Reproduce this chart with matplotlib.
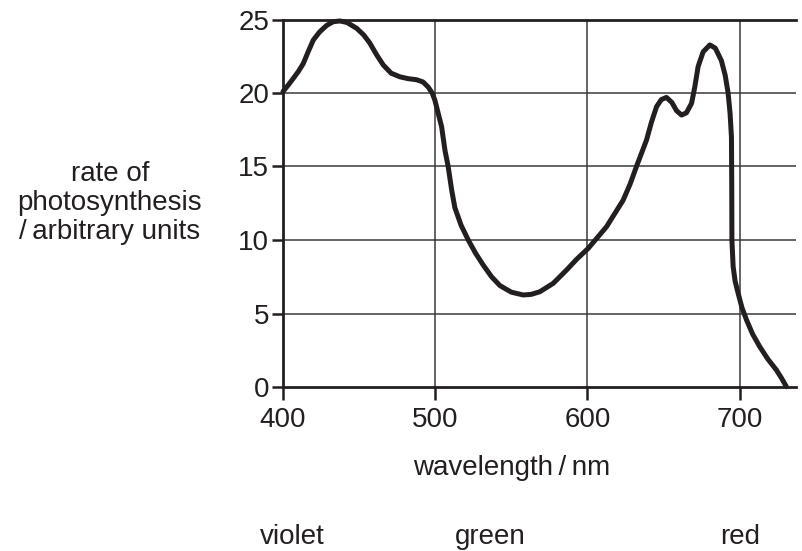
"""Rate of photosynthesis against wavelength (action spectrum)."""

import matplotlib

matplotlib.use("Agg")
import matplotlib.pyplot as plt
import matplotlib.transforms as mtransforms

# curve
wavelength_nm = [
    400, 403.5, 406.8, 410, 413.3, 416.5, 419.9, 424, 428.7, 433, 437.4,
    442, 448.4, 453, 457, 461.5, 465.9, 471, 476.8, 482, 487.8, 492,
    495.4, 498, 499.8, 502, 504.2, 506.4, 508.5, 510.8, 512.9, 517,
    521.7, 526.5, 531.5, 537, 542.5, 550, 557.8, 563, 568.7, 577.5,
    586.3, 593, 600.5, 612.5, 623.4, 628, 632.2, 635.5, 638.8, 642,
    645.4, 648.5, 651.9, 655.5, 658.5, 661.8, 665, 668.4, 670.5, 672.7,
    676, 680.4, 684, 688, 690.5, 692.4, 693.7, 694.6, 694.8, 694.9,
    695.7, 697, 699, 701.5, 704.5, 708.5, 713.2, 718.5, 724.1, 727.5,
    730.7,
]
rate = [
    20.1, 20.55, 21.0, 21.45, 22.0, 22.8, 23.6, 24.15, 24.6, 24.85, 24.9,
    24.8, 24.4, 23.95, 23.4, 22.6, 21.9, 21.35, 21.1, 20.98, 20.9, 20.75,
    20.4, 20.0, 19.5, 18.6, 17.7, 16.1, 15.0, 13.4, 12.2, 11.0,
    10.0, 9.1, 8.3, 7.5, 6.9, 6.45, 6.26, 6.3, 6.48, 7.05,
    7.96, 8.7, 9.43, 10.9, 12.7, 13.8, 15.0, 15.9, 16.8, 18.0,
    19.07, 19.55, 19.7, 19.35, 18.8, 18.5, 18.65, 19.3, 20.4, 21.8,
    22.8, 23.27, 23.05, 22.2, 21.2, 20.0, 18.6, 17.0, 13.5, 10.0,
    8.2, 7.2, 6.37, 5.4, 4.56, 3.6, 2.74, 1.9, 1.16, 0.6,
    0.02,
]

x_ticks = [400, 500, 600, 700]
y_ticks = [0, 5, 10, 15, 20, 25]
colour_names = ["violet", "green", "red"]
colour_name_nm = [406, 536, 700]

INK = "#231f20"

plt.rcParams["font.family"] = ["Liberation Sans", "DejaVu Sans"]

fig = plt.figure(figsize=(8.02, 5.51), dpi=100)
ax = fig.add_axes([283 / 802, 1 - 387 / 551, 513 / 802, 367.5 / 551])

ax.set_xlim(400, 737)
ax.set_ylim(0, 25)

for xg in x_ticks[1:]:
    ax.axvline(xg, color="#3a3a3a", lw=1.1, zorder=1)
for yg in y_ticks[1:-1]:
    ax.axhline(yg, color="#3a3a3a", lw=1.1, zorder=1)

ax.plot(wavelength_nm, rate, color=INK, lw=3.6, solid_joinstyle="round",
        solid_capstyle="round", zorder=3, clip_on=False)

for lado in ["left", "bottom", "top"]:
    ax.spines[lado].set_linewidth(2.0)
    ax.spines[lado].set_color(INK)
ax.spines["right"].set_visible(False)

ax.set_xticks(x_ticks)
ax.set_yticks(y_ticks)
ax.tick_params(axis="x", length=9.5, width=1.8, pad=5, colors=INK,
               labelsize=20)
ax.tick_params(axis="y", length=8, width=1.8, pad=2, colors=INK,
               labelsize=20)

trans = mtransforms.blended_transform_factory(ax.transData, fig.transFigure)
ax.text(550, 1 - 475 / 551, "wavelength\u2009/\u2009nm", transform=trans,
        ha="center", va="baseline", fontsize=20, color=INK)

for nome, pos in zip(colour_names, colour_name_nm):
    ax.text(pos, 1 - 544 / 551, nome, transform=trans, ha="center",
            va="baseline", fontsize=20, color=INK)

fig.text(110 / 802, 1 - 203 / 551,
         "rate of\nphotosynthesis\n/\u2009arbitrary units",
         ha="center", va="center", fontsize=20, color=INK,
         linespacing=1.15, multialignment="center")

fig.savefig("out.png", dpi=100)
